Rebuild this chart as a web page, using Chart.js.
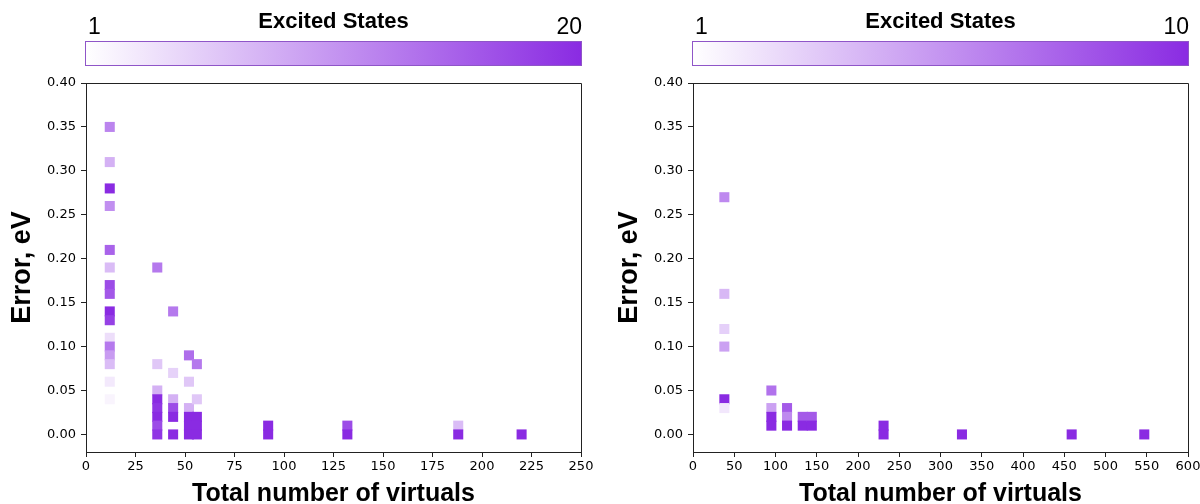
<!DOCTYPE html>
<html><head><meta charset="utf-8">
<script src="https://cdn.jsdelivr.net/npm/chart.js@4/dist/chart.umd.min.js"></script>
<style>
html,body{margin:0;padding:0;background:#fff;width:1200px;height:504px;overflow:hidden;}
.panel{position:absolute;top:0;width:600px;height:504px;}
#p1{left:0}
#p2{left:607px}
</style></head><body>
<div class="panel" id="p1"><canvas id="c1" width="600" height="504"></canvas></div>
<div class="panel" id="p2"><canvas id="c2" width="600" height="504"></canvas></div>
<script>
// Left panel: error vs total number of virtuals, coloured by number of excited states (1–20)
const leftVirtuals = [
  12,12,12,12,12,12,12,12,12,12,12,12,12,12,12,12,
  36,36,36,36,36,36,36,36,
  44,44,44,44,44,44,
  52,52,52,52,52,52,
  56,56,56,56,56,
  92,92,
  132,132,
  188,188,
  220
];
const leftErrors = [
  0.35,0.31,0.28,0.26,0.21,0.19,0.17,0.16,0.14,0.13,0.11,0.10,0.09,0.08,0.06,0.04,
  0.19,0.08,0.05,0.04,0.03,0.02,0.01,0.00,
  0.14,0.07,0.04,0.03,0.02,0.00,
  0.09,0.06,0.03,0.02,0.01,0.00,
  0.08,0.04,0.02,0.01,0.00,
  0.01,0.00,
  0.01,0.00,
  0.01,0.00,
  0.00
];
const leftStates = [
  12,8,20,11,15,7,17,16,20,18,4,13,10,7,3,2,
  13,6,8,20,19,20,17,19,
  13,5,8,17,20,20,
  14,6,8,20,20,20,
  13,6,20,20,20,
  20,20,
  17,20,
  7,20,
  20
];

// Right panel: same quantities, excited states 1–10
const rightVirtuals = [
  38,38,38,38,38,38,
  95,95,95,95,
  114,114,114,
  133,133,
  144,144,
  231,231,
  326,
  459,
  547
];
const rightErrors = [
  0.27,0.16,0.12,0.10,0.04,0.03,
  0.05,0.03,0.02,0.01,
  0.03,0.02,0.01,
  0.02,0.01,
  0.02,0.01,
  0.01,0.00,
  0.00,
  0.00,
  0.00
];
const rightStates = [
  6,4,3,5,10,2,
  7,5,10,10,
  8,6,10,
  8,10,
  8,10,
  10,10,
  10,
  10,
  10
];

// Axis ticks
const errorTicks = [0,0.05,0.10,0.15,0.20,0.25,0.30,0.35,0.40];
const leftVirtualTicks = [0,25,50,75,100,125,150,175,200,225,250];
const rightVirtualTicks = [0,50,100,150,200,250,300,350,400,450,500,550,600];

// Colour-bar end labels
const leftStateRange = [1, 20];
const rightStateRange = [1, 10];

const LOW = [255,255,255];
const HIGH = [138,43,226];
function stateColor(s, range) {
  const t = Math.max(0, Math.min(1, (s - range[0]) / (range[1] - range[0])));
  const c = LOW.map((v, i) => Math.round(v + (HIGH[i] - v) * t));
  return `rgb(${c[0]},${c[1]},${c[2]})`;
}

const SANS = '"Liberation Sans", Arial, sans-serif';
const TICKFONT = '"DejaVu Sans", sans-serif';
const AXIS = '#222';

// Full box around the plotting area
const framePlugin = {
  id: 'frame',
  afterDraw(chart) {
    const {ctx, chartArea: a} = chart;
    ctx.save();
    ctx.strokeStyle = AXIS;
    ctx.lineWidth = 1;
    ctx.beginPath();
    ctx.moveTo(a.left, a.top + 0.5);
    ctx.lineTo(a.right + 0.5, a.top + 0.5);
    ctx.lineTo(a.right + 0.5, a.bottom);
    ctx.stroke();
    ctx.restore();
  }
};

// Horizontal colour bar above the plotting area
const colorbarPlugin = {
  id: 'colorbar',
  afterDraw(chart, args, opts) {
    const {ctx, chartArea: a} = chart;
    const x0 = a.left - 1, x1 = a.right + 1;
    const y0 = 41, h = 25;
    ctx.save();
    const g = ctx.createLinearGradient(x0, 0, x1, 0);
    g.addColorStop(0, stateColor(opts.range[0], opts.range));
    g.addColorStop(1, stateColor(opts.range[1], opts.range));
    ctx.fillStyle = g;
    ctx.fillRect(x0, y0, x1 - x0, h);
    ctx.strokeStyle = '#8f55c8';
    ctx.lineWidth = 1;
    ctx.strokeRect(x0 + 0.5, y0 + 0.5, x1 - x0 - 1, h - 1);
    ctx.fillStyle = '#000';
    ctx.textBaseline = 'alphabetic';
    ctx.font = `23px ${SANS}`;
    ctx.textAlign = 'left';
    ctx.fillText(String(opts.range[0]), x0 + 3, 34);
    ctx.textAlign = 'right';
    ctx.fillText(String(opts.range[1]), x1, 34);
    ctx.font = `bold 22px ${SANS}`;
    ctx.textAlign = 'center';
    ctx.fillText(opts.label, (x0 + x1) / 2, 28);
    ctx.restore();
  }
};

function makeChart(id, xs, ys, states, range, xTicks, xMax) {
  const points = xs.map((x, i) => ({x, y: ys[i]}));
  const colors = states.map(s => stateColor(s, range));
  return new Chart(document.getElementById(id), {
    type: 'scatter',
    data: {
      datasets: [{
        data: points,
        pointStyle: 'rect',
        pointRadius: 7.1,
        pointHoverRadius: 7.1,
        pointBorderWidth: 0,
        pointBackgroundColor: colors,
        pointBorderColor: colors
      }]
    },
    plugins: [framePlugin, colorbarPlugin],
    options: {
      responsive: false,
      devicePixelRatio: 1,
      animation: false,
      layout: {padding: {top: 83, right: 19, bottom: 0, left: 0}},
      plugins: {
        legend: {display: false},
        tooltip: {enabled: false},
        colorbar: {range, label: 'Excited States'}
      },
      scales: {
        x: {
          type: 'linear',
          min: 0,
          max: xMax,
          afterFit(s) { s.height = 52; },
          afterBuildTicks(s) { s.ticks = xTicks.map(v => ({value: v})); },
          border: {display: true, color: AXIS, width: 1},
          grid: {drawOnChartArea: false, drawTicks: true, tickLength: 5, tickColor: AXIS},
          ticks: {
            color: '#000',
            padding: 2,
            maxRotation: 0,
            autoSkip: false,
            font: {family: TICKFONT, size: 13},
            callback: v => String(v)
          },
          title: {
            display: true,
            text: 'Total number of virtuals',
            color: '#000',
            font: {family: SANS, size: 25, weight: 'bold'},
            padding: {top: 0, bottom: -5}
          }
        },
        y: {
          type: 'linear',
          min: -0.02,
          max: 0.40,
          afterFit(s) { s.width = 86; },
          afterBuildTicks(s) { s.ticks = errorTicks.map(v => ({value: v})); },
          border: {display: true, color: AXIS, width: 1},
          grid: {drawOnChartArea: false, drawTicks: true, tickLength: 5, tickColor: AXIS},
          ticks: {
            color: '#000',
            padding: 5,
            autoSkip: false,
            font: {family: TICKFONT, size: 13},
            callback: v => Number(v).toFixed(2)
          },
          title: {
            display: true,
            text: 'Error, eV',
            color: '#000',
            font: {family: SANS, size: 27, weight: 'bold'},
            padding: {top: 6, bottom: 0}
          }
        }
      }
    }
  });
}

makeChart('c1', leftVirtuals, leftErrors, leftStates, leftStateRange, leftVirtualTicks, 250);
makeChart('c2', rightVirtuals, rightErrors, rightStates, rightStateRange, rightVirtualTicks, 600);
</script>
</body></html>
